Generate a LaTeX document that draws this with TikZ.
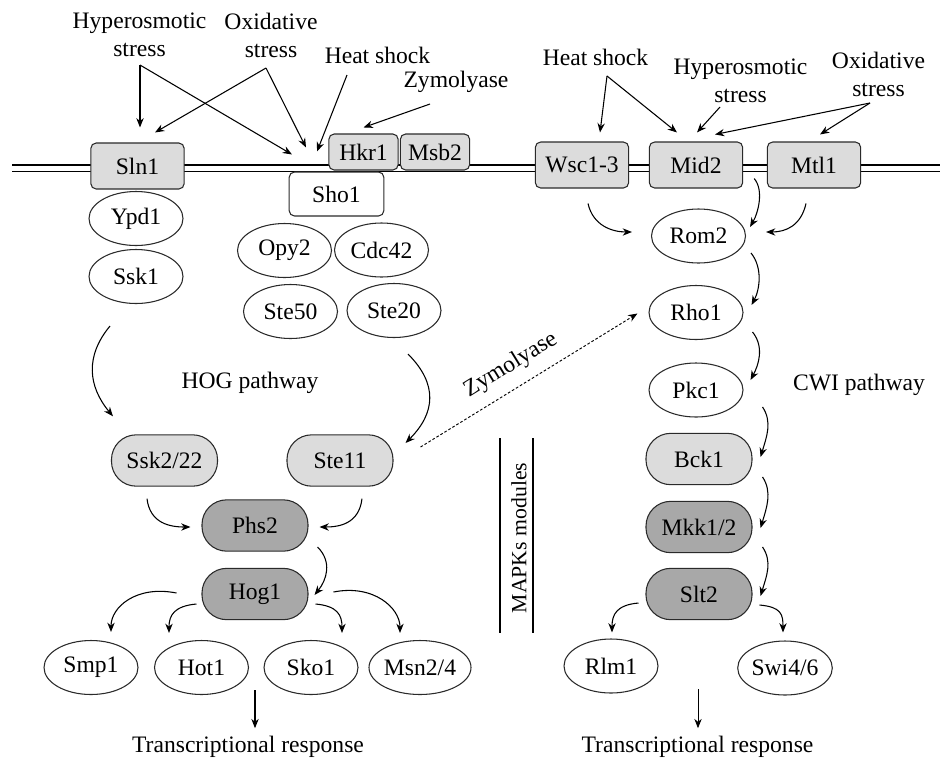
\documentclass[tikz,border=0pt]{standalone}
\usepackage{fontspec}
\setmainfont{Liberation Serif}
\usetikzlibrary{arrows.meta,shapes.geometric,calc}
\definecolor{lightg}{HTML}{DCDCDC}
\definecolor{darkg}{HTML}{A8A8A8}
\definecolor{edgec}{HTML}{2A2A2A}
\begin{document}
\begin{tikzpicture}[x=0.75pt,y=-0.75pt,
  font=\fontsize{17.7}{21}\selectfont,
  memb/.style={rectangle,rounded corners=4pt,draw=edgec,line width=0.8pt,fill=lightg,
    minimum width=70pt,minimum height=34.5pt,inner sep=0pt},
  smallmemb/.style={memb,minimum width=52pt,minimum height=27pt},
  shobox/.style={memb,fill=white,minimum width=71pt,minimum height=33pt},
  oval/.style={ellipse,draw=edgec,line width=0.8pt,fill=white,
    minimum width=70.5pt,minimum height=40.5pt,inner sep=0pt},
  kin/.style={rectangle,rounded corners=18.5pt,draw=edgec,line width=0.8pt,
    minimum width=79.5pt,minimum height=38.5pt,inner sep=0pt},
  kinl/.style={kin,fill=lightg},
  kind/.style={kin,fill=darkg},
  lbl/.style={align=center,inner sep=0pt},
  arr/.style={-{Stealth[length=7pt,width=5.5pt]},line width=0.8pt},
  zarr/.style={-{Stealth[length=7pt,width=5.5pt]},line width=0.7pt,dash pattern=on 2pt off 1.5pt}
]
\path[use as bounding box] (0,0) rectangle (948,761);

% membrane
\draw[line width=1.1pt] (12,165) -- (940,165);
\draw[line width=1.1pt] (12,171.5) -- (940,171.5);

% membrane proteins
\node[memb] (sln1) at (137.5,166) {Sln1};
\node[smallmemb] (hkr1) at (363.5,152) {Hkr1};
\node[smallmemb] (msb2) at (435,152) {Msb2};
\node[shobox] (sho1) at (336.5,194) {Sho1};
\node[memb] (wsc) at (582,165) {Wsc1-3};
\node[memb] (mid2) at (696,165) {Mid2};
\node[memb] (mtl1) at (814,165) {Mtl1};

% HOG side
\node[oval] (ypd1) at (136,218.5) {Ypd1};
\node[oval] (ssk1) at (136,276.5) {Ssk1};
\node[oval] (opy2) at (284.5,250.5) {Opy2};
\node[oval] (cdc42) at (381.5,250) {Cdc42};
\node[oval] (ste50) at (290.5,311.5) {Ste50};
\node[oval] (ste20) at (394,310.5) {Ste20};
\node[lbl] (hog) at (250,383) {HOG pathway};
\node[kinl] (ssk2) at (164.5,460.5) {Ssk2/22};
\node[kinl] (ste11) at (340,460.5) {Ste11};
\node[kind] (phs2) at (255,525.5) {Phs2};
\node[kind] (hog1) at (255,594) {Hog1};
\node[oval] (smp1) at (91,667.5) {Smp1};
\node[oval] (hot1) at (201.5,667.5) {Hot1};
\node[oval] (sko1) at (311,667.5) {Sko1};
\node[oval] (msn) at (420,667.5) {Msn2/4};
\node[lbl] (tr1) at (248,747) {Transcriptional response};

% CWI side
\node[oval] (rom2) at (698.5,236) {Rom2};
\node[oval] (rho1) at (696,312.5) {Rho1};
\node[oval] (pkc1) at (696,390) {Pkc1};
\node[lbl] (cwi) at (859,385) {CWI pathway};
\node[kinl] (bck1) at (699,459) {Bck1};
\node[kind] (mkk) at (699,527) {Mkk1/2};
\node[kind] (slt2) at (699,594) {Slt2};
\node[oval] (rlm1) at (611,666) {Rlm1};
\node[oval] (swi) at (785,668) {Swi4/6};
\node[lbl] (tr2) at (697.5,747) {Transcriptional response};

% MAPKs modules
\node[lbl,rotate=90,font=\fontsize{16.3}{20}\selectfont] (mapk) at (519,538) {MAPKs modules};
\draw[line width=0.8pt] ($(mapk.center)+(-19,-100)$) coordinate (ml1) -- ($(mapk.center)+(-19,95)$) coordinate (ml2);
\draw[line width=0.8pt] ($(mapk.center)+(14,-100)$) coordinate (mr1) -- ($(mapk.center)+(14,95)$) coordinate (mr2);

% stress labels
\node[lbl] (hypL) at (139.5,35) {Hyperosmotic\\stress};
\node[lbl] (oxL) at (271,35) {Oxidative\\stress};
\node[lbl] (heatL) at (377.5,55) {Heat shock};
\node[lbl] (zymL) at (456,82) {Zymolyase};
\node[lbl] (heatR) at (595.5,57) {Heat shock};
\node[lbl] (hypR) at (740.5,81) {Hyperosmotic\\stress};
\node[lbl] (oxR) at (878.5,74) {Oxidative\\stress};

\coordinate (h1) at (140,65);
\coordinate (o1) at (266,68);
\coordinate (hs1) at (347,75);
\coordinate (z1) at (430,104);
\coordinate (hs2) at (607,76);
\coordinate (hy2) at (720,107);
\coordinate (o2) at (870,103);

\draw[arr] (h1) -- ($(sln1.north)+(2.5,-15)$);
\draw[arr] (h1) -- ($(sho1.north)+(-44.5,-17)$);
\draw[arr] (o1) -- ($(sln1.north)+(17.5,-10)$);
\draw[arr] (o1) -- ($(sho1.north)+(-30.5,-24)$);
\draw[arr] (hs1) -- ($(sho1.north)+(-19.5,-20)$);
\draw[arr] (z1) -- ($(hkr1.north)+(0,-6)$);

\draw[arr] (hs2) -- ($(wsc.north)+(18,-9)$);
\draw[arr] (hs2) -- ($(mid2.north)+(-19,-9)$);
\draw[arr] (hy2) -- ($(mid2.north)+(1,-9)$);
\draw[arr] (o2) -- ($(mid2.north)+(19,-7)$);
\draw[arr] (o2) -- ($(mtl1.north)+(6,-7)$);

% HOG curved arrows
\draw[arr] ($(ssk1.south)+(-26,22)$) .. controls +(-25,30) and +(-25,-30) .. ($(ssk2.north)+(-51.5,-18)$);
\draw[arr] ($(ste20.south)+(14,16)$) .. controls +(30,30) and +(30,-30) .. ($(ste11.east)+(12,-17.5)$);
\draw[arr] ($(ssk2.south)+(-17.5,12)$) .. controls +(3,25) and +(-20,0) .. ($(phs2.west)+(-11,1.5)$);
\draw[arr] ($(ste11.south)+(22,12)$) .. controls +(-3,25) and +(20,0) .. ($(phs2.east)+(11,1.5)$);
\draw[arr] ($(phs2.east)+(9,21.5)$) .. controls +(15,15) and +(12,-15) .. ($(hog1.east)+(6,1)$);
\draw[arr] ($(hog1.west)+(-25,-1)$) .. controls +(-40,-8) and +(0,-25) .. ($(smp1.north)+(20,-8)$);
\draw[arr] ($(hog1.west)+(-5,10)$) .. controls +(-22,2) and +(0,-18) .. ($(hot1.north)+(-32.5,-7)$);
\draw[arr] ($(hog1.east)+(7,10)$) .. controls +(22,2) and +(0,-18) .. ($(sko1.north)+(31,-7)$);
\draw[arr] ($(hog1.east)+(25,-2)$) .. controls +(40,-8) and +(0,-25) .. ($(msn.north)+(-20,-7)$);
\draw[arr] ($(hog1.south)+(0,70)$) -- ($(hog1.south)+(0,108)$);

% CWI curved arrows
\draw[arr] ($(wsc.south)+(6,15)$) .. controls +(5,22) and +(-20,0) .. ($(rom2.west)+(-19,-4)$);
\draw[arr] ($(mid2.south east)+(11,-10)$) .. controls +(10,12) and +(8,-14) .. ($(rom2.east)+(4,-9)$);
\draw[arr] ($(mtl1.south)+(-8,15)$) .. controls +(-5,22) and +(20,0) .. ($(rom2.east)+(20,-4)$);
\draw[arr] ($(rom2.east)+(5,17)$) .. controls +(12,15) and +(8,-15) .. ($(rho1.east)+(8,-7.5)$);
\draw[arr] ($(rho1.east)+(9,19.5)$) .. controls +(12,15) and +(8,-15) .. ($(pkc1.east)+(7,-10)$);
\draw[arr] ($(pkc1.east)+(19,17)$) .. controls +(10,15) and +(6,-20) .. ($(bck1.east)+(8,-2)$);
\draw[arr] ($(bck1.east)+(10,18)$) .. controls +(10,15) and +(6,-20) .. ($(mkk.east)+(8,1)$);
\draw[arr] ($(mkk.east)+(10,20)$) .. controls +(10,15) and +(6,-20) .. ($(slt2.east)+(8,2)$);
\draw[arr] ($(slt2.west)+(-7,9)$) .. controls +(-22,2) and +(0,-18) .. ($(rlm1.north)+(1,-6)$);
\draw[arr] ($(slt2.east)+(7,11)$) .. controls +(22,2) and +(0,-18) .. ($(swi.north)+(-2,-8)$);
\draw[arr,line width=0.6pt] ($(slt2.south)+(-1,69)$) -- ($(slt2.south)+(-1,108)$);

% Zymolyase cross-talk
\draw[zarr] ($(ste11.east)+(27,-13.5)$) -- node[pos=0.47,sloped,above=5pt] (zymX) {Zymolyase} ($(rho1.west)+(-11,1)$);
\end{tikzpicture}
\end{document}
